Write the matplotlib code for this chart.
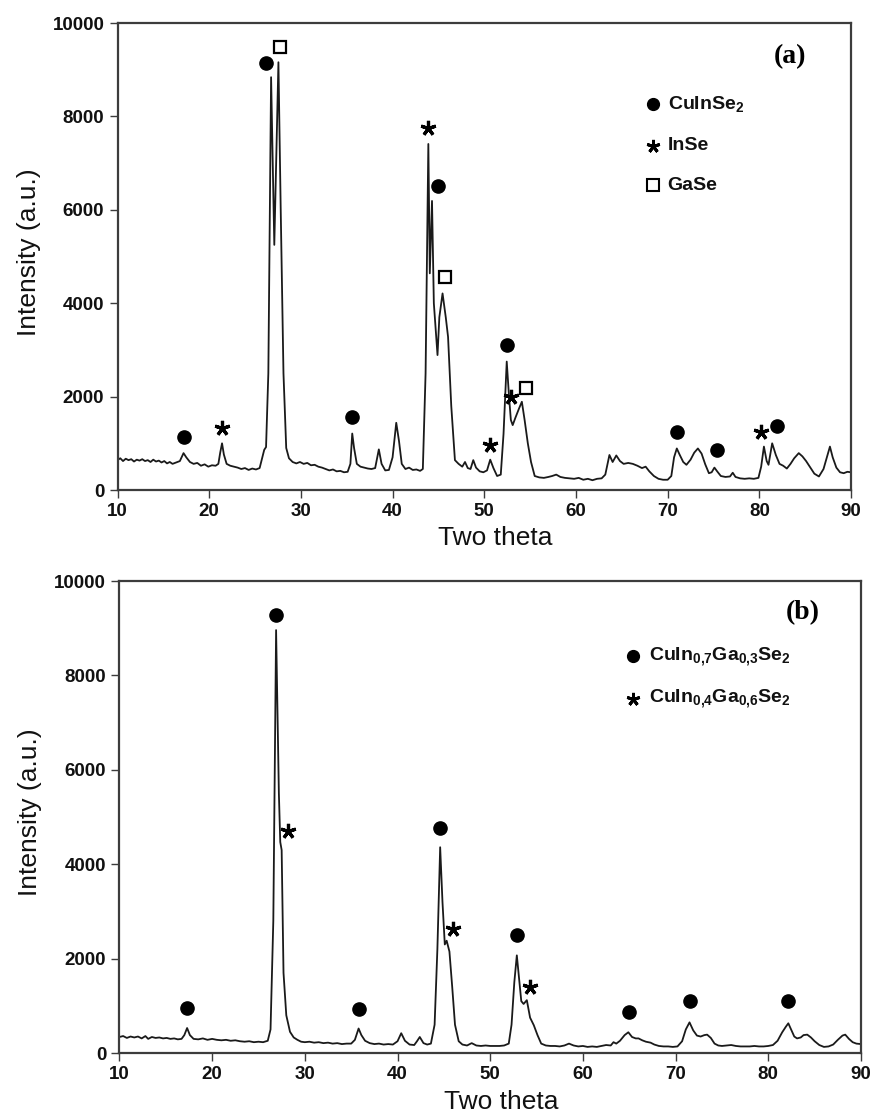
import matplotlib
matplotlib.use("Agg")
import matplotlib.pyplot as plt

plt.rcParams['font.family'] = ['Liberation Sans', 'DejaVu Sans']
plt.rcParams['mathtext.fontset'] = 'custom'
plt.rcParams['mathtext.rm'] = 'Liberation Sans:bold'
plt.rcParams['mathtext.it'] = 'Liberation Sans:bold'
plt.rcParams['mathtext.bf'] = 'Liberation Sans:bold'

# ---- pattern (a) ----
two_theta_a = [10.0, 10.3, 10.6, 10.9, 11.2, 11.5, 11.8, 12.1, 12.4, 12.7, 13.0, 13.3, 13.6, 13.9,
               14.2, 14.5, 14.8, 15.1, 15.4, 15.7, 16.0, 16.4, 16.8, 17.2, 17.5, 17.9, 18.3, 18.7,
               19.1, 19.5, 19.9, 20.3, 20.7, 21.0, 21.2, 21.4, 21.6, 21.9, 22.3, 22.7, 23.1, 23.5,
               23.9, 24.3, 24.7, 25.1, 25.5, 25.8, 26.0, 26.2, 26.45, 26.75, 27.1, 27.55, 27.8, 28.1,
               28.4, 28.7, 29.1, 29.5, 29.9, 30.3, 30.7, 31.1, 31.5, 31.9, 32.3, 32.7, 33.1, 33.5,
               33.9, 34.3, 34.7, 35.1, 35.4, 35.6, 35.8, 36.1, 36.5, 36.9, 37.3, 37.7, 38.1, 38.5,
               38.8, 39.2, 39.6, 40.0, 40.4, 40.7, 41.0, 41.4, 41.8, 42.2, 42.6, 43.0, 43.3, 43.6,
               43.9, 44.06, 44.3, 44.5, 44.9, 45.1, 45.45, 45.8, 46.05, 46.4, 46.8, 47.2, 47.6, 47.9,
               48.2, 48.5, 48.8, 49.1, 49.5, 49.9, 50.3, 50.65, 51.0, 51.4, 51.8, 52.1, 52.45, 52.7,
               52.9, 53.1, 53.4, 53.8, 54.1, 54.4, 54.75, 55.1, 55.5, 56.0, 56.5, 57.0, 57.4, 57.85,
               58.3, 58.8, 59.3, 59.8, 60.3, 60.8, 61.3, 61.8, 62.3, 62.8, 63.2, 63.65, 64.0, 64.4,
               64.8, 65.2, 65.7, 66.2, 66.7, 67.2, 67.6, 68.0, 68.5, 69.0, 69.5, 70.0, 70.4, 70.7,
               71.0, 71.3, 71.7, 72.05, 72.5, 72.9, 73.3, 73.7, 74.1, 74.5, 74.8, 75.1, 75.4, 75.8,
               76.3, 76.8, 77.1, 77.4, 77.9, 78.4, 78.9, 79.4, 79.9, 80.2, 80.5, 80.8, 81.0, 81.4,
               81.8, 82.2, 82.6, 83.0, 83.4, 83.8, 84.3, 84.7, 85.1, 85.5, 86.0, 86.5, 87.0, 87.4,
               87.7, 88.0, 88.4, 88.8, 89.2, 89.6, 90.0]
intensity_a = [640, 680, 620, 670, 640, 660, 610, 650, 630, 660, 620, 640, 600, 650,
               610, 630, 590, 620, 570, 600, 560, 590, 620, 790, 700, 600, 560, 580,
               520, 550, 500, 530, 520, 560, 800, 1000, 760, 560, 520, 500, 480, 450,
               470, 430, 460, 440, 470, 700, 860, 920, 2500, 8840, 5250, 9160, 6000, 2500,
               900, 680, 600, 570, 600, 560, 580, 530, 540, 500, 480, 450, 420, 440,
               400, 410, 380, 390, 560, 1210, 900, 560, 500, 480, 460, 450, 470, 870,
               560, 420, 430, 700, 1440, 1050, 560, 450, 480, 430, 440, 410, 450, 2500,
               7410, 4640, 6190, 4000, 2890, 3700, 4210, 3700, 3280, 1800, 640, 560, 500, 600,
               470, 450, 640, 480, 400, 380, 420, 650, 470, 300, 330, 1200, 2750, 2000,
               1500, 1390, 1550, 1750, 1890, 1500, 1000, 600, 300, 270, 260, 280, 300, 330,
               280, 260, 250, 240, 260, 220, 240, 210, 240, 250, 330, 750, 600, 740,
               620, 560, 580, 560, 520, 470, 500, 400, 300, 240, 220, 220, 300, 700,
               890, 760, 600, 540, 650, 800, 890, 780, 550, 360, 380, 480, 400, 300,
               280, 290, 370, 280, 250, 240, 250, 240, 260, 500, 930, 620, 540, 1000,
               750, 560, 520, 460, 560, 680, 790, 720, 620, 500, 350, 290, 450, 720,
               930, 700, 480, 380, 360, 390, 380]

# phase marks (a)
cuinse2_x_a = [17.3, 26.2, 35.6, 45.0, 52.47, 71.0, 75.36, 81.97]
cuinse2_y_a = [1140, 9140, 1570, 6510, 3105, 1250, 857, 1370]
inse_x_a = [21.4, 43.9, 50.66, 52.95, 80.2]
inse_y_a = [1320, 7745, 964, 1998, 1250]
gase_x_a = [27.7, 45.7, 54.5]
gase_y_a = [9493, 4568, 2177]

# ---- pattern (b) ----
two_theta_b = [10.0, 10.4, 10.8, 11.2, 11.6, 12.0, 12.4, 12.8, 13.1, 13.5, 13.9, 14.3, 14.7, 15.1,
               15.5, 15.9, 16.3, 16.7, 17.0, 17.3, 17.6, 18.0, 18.5, 19.0, 19.5, 20.0, 20.5, 21.0,
               21.5, 22.0, 22.5, 23.0, 23.5, 24.0, 24.5, 25.0, 25.5, 26.0, 26.3, 26.6, 26.9, 27.2,
               27.35, 27.5, 27.7, 28.0, 28.4, 28.8, 29.2, 29.6, 30.0, 30.5, 31.0, 31.5, 32.0, 32.5,
               33.0, 33.5, 34.0, 34.5, 35.0, 35.4, 35.8, 36.1, 36.5, 37.0, 37.5, 38.0, 38.5, 39.0,
               39.5, 40.0, 40.4, 40.8, 41.3, 41.8, 42.1, 42.4, 42.8, 43.2, 43.6, 44.0, 44.3, 44.6,
               44.85, 45.1, 45.3, 45.6, 45.9, 46.2, 46.6, 47.0, 47.5, 48.0, 48.5, 49.0, 49.5, 50.0,
               50.5, 51.0, 51.5, 52.0, 52.3, 52.6, 52.87, 53.1, 53.35, 53.6, 53.95, 54.3, 54.7, 55.1,
               55.5, 56.0, 56.5, 57.0, 57.5, 58.0, 58.5, 59.0, 59.5, 60.0, 60.5, 61.0, 61.5, 62.0,
               62.5, 63.0, 63.3, 63.6, 64.0, 64.5, 64.9, 65.3, 65.7, 66.0, 66.4, 66.8, 67.3, 67.7,
               68.2, 68.7, 69.2, 69.7, 70.2, 70.7, 71.1, 71.5, 71.9, 72.3, 72.7, 73.1, 73.4, 73.8,
               74.2, 74.6, 75.0, 75.5, 76.0, 76.5, 77.0, 77.5, 78.0, 78.5, 79.0, 79.5, 80.0, 80.5,
               81.0, 81.5, 81.9, 82.16, 82.5, 82.8, 83.1, 83.5, 83.8, 84.2, 84.6, 85.0, 85.5, 86.0,
               86.5, 87.0, 87.5, 88.0, 88.3, 88.7, 89.1, 89.5, 90.0]
intensity_b = [340, 360, 320, 350, 330, 350, 310, 360, 300, 340, 320, 330, 310, 320,
               300, 310, 290, 300, 380, 530, 380, 300, 290, 310, 280, 300, 280, 270,
               280, 260, 270, 250, 240, 250, 230, 240, 230, 260, 500, 2800, 8960, 5500,
               4470, 4300, 1700, 800, 450, 330, 280, 240, 230, 240, 220, 230, 210, 220,
               200, 210, 190, 200, 200, 280, 520, 380, 260, 210, 190, 200, 180, 190,
               180, 250, 420, 260, 180, 170, 250, 340, 210, 180, 200, 600, 2200, 4360,
               3200, 2300, 2380, 2150, 1400, 600, 250, 180, 160, 210, 160, 150, 160, 150,
               150, 150, 160, 200, 600, 1500, 2070, 1600, 1100, 1040, 1120, 750, 590, 380,
               200, 160, 150, 150, 140, 160, 200, 160, 140, 150, 130, 140, 130, 150,
               170, 160, 230, 200, 260, 380, 440, 340, 310, 310, 270, 240, 220, 180,
               150, 140, 140, 130, 140, 250, 500, 650, 480, 370, 350, 380, 390, 320,
               200, 160, 150, 160, 170, 150, 140, 140, 140, 150, 140, 140, 150, 170,
               260, 440, 560, 630, 480, 350, 310, 330, 380, 390, 330, 250, 170, 130,
               140, 180, 280, 370, 390, 300, 230, 200, 190]

# phase marks (b)
cigs73_x_b = [17.3, 26.9, 35.8, 44.6, 52.87, 65.0, 71.5, 82.16]
cigs73_y_b = [956, 9290, 935, 4761, 2500, 870, 1101, 1101]
cigs46_x_b = [28.2, 46.0, 54.3]
cigs46_y_b = [4703, 2623, 1391]

legend_a = ["CuInSe$_2$", "InSe", "GaSe"]
legend_b = ["CuIn$_{0{,}7}$Ga$_{0{,}3}$Se$_2$", "CuIn$_{0{,}4}$Ga$_{0{,}6}$Se$_2$"]

x_ticks = [10, 20, 30, 40, 50, 60, 70, 80, 90]
y_ticks = [0, 2000, 4000, 6000, 8000, 10000]

star = (5, 2, 0)
spine_color = '#3c3c3c'
line_color = '#1a1a1a'


def style_axes(ax, xlab_x, ylab_y):
    ax.set_xlim(10, 90)
    ax.set_ylim(0, 10000)
    ax.set_xticks(x_ticks)
    ax.set_yticks(y_ticks)
    ax.tick_params(direction='out', length=5.5, width=1.0, pad=4,
                   labelsize=13.5, colors=spine_color, labelcolor='#111111')
    ax.tick_params(top=False, right=False)
    for lab in ax.get_xticklabels() + ax.get_yticklabels():
        lab.set_fontweight('bold')
    for s in ax.spines.values():
        s.set_linewidth(1.6)
        s.set_color(spine_color)
    ax.set_xlabel("Two theta", fontsize=19, color='#111111')
    ax.set_ylabel("Intensity (a.u.)", fontsize=19, color='#111111')
    ax.xaxis.set_label_coords(xlab_x, -0.078)
    ax.yaxis.set_label_coords(-0.104, ylab_y)


fig = plt.figure(figsize=(8.75, 11.18), dpi=100)
ax1 = fig.add_axes([0.1343, 0.5617, 0.8383, 0.4177])
ax2 = fig.add_axes([0.1365, 0.0581, 0.8475, 0.4222])

# (a)
ax1.plot(two_theta_a, intensity_a, color=line_color, lw=1.3)
ax1.plot(cuinse2_x_a, cuinse2_y_a, 'o', color='k', ms=9.5, ls='none')
ax1.plot(inse_x_a, inse_y_a, marker=star, color='k', ms=11, mew=2.3, ls='none')
ax1.plot(gase_x_a, gase_y_a, 's', mfc='white', mec='k', ms=8.5, mew=1.6, ls='none')
style_axes(ax1, 0.515, 0.51)
ax1.text(0.9166, 0.928, "(a)", transform=ax1.transAxes, ha='center', va='center',
         fontsize=20, fontweight='bold', family=['Liberation Serif', 'DejaVu Serif'])
leg_y_a = [0.8266, 0.737, 0.653]
leg_mk_a = [dict(marker='o', ms=8.5, mfc='k', mec='k'),
            dict(marker=star, ms=9.5, mew=2.1, mec='k'),
            dict(marker='s', ms=8, mfc='white', mec='k', mew=1.5)]
for lab, yy, mk in zip(legend_a, leg_y_a, leg_mk_a):
    ax1.plot([0.7295], [yy], transform=ax1.transAxes, ls='none', clip_on=False, **mk)
    ax1.text(0.750, yy, lab, transform=ax1.transAxes, ha='left', va='center',
             fontsize=14, fontweight='bold', color='#111111')

# (b)
ax2.plot(two_theta_b, intensity_b, color=line_color, lw=1.3)
ax2.plot(cigs73_x_b, cigs73_y_b, 'o', color='k', ms=9.5, ls='none')
ax2.plot(cigs46_x_b, cigs46_y_b, marker=star, color='k', ms=11, mew=2.3, ls='none')
style_axes(ax2, 0.5155, 0.51)
ax2.text(0.921, 0.933, "(b)", transform=ax2.transAxes, ha='center', va='center',
         fontsize=20, fontweight='bold', family=['Liberation Serif', 'DejaVu Serif'])
leg_y_b = [0.8405, 0.751]
leg_mk_b = [dict(marker='o', ms=8.5, mfc='k', mec='k'),
            dict(marker=star, ms=9.5, mew=2.1, mec='k')]
for lab, yy, mk in zip(legend_b, leg_y_b, leg_mk_b):
    ax2.plot([0.692], [yy], transform=ax2.transAxes, ls='none', clip_on=False, **mk)
    ax2.text(0.714, yy, lab, transform=ax2.transAxes, ha='left', va='center',
             fontsize=14, fontweight='bold', color='#111111')

fig.savefig("out.png", dpi=100)
